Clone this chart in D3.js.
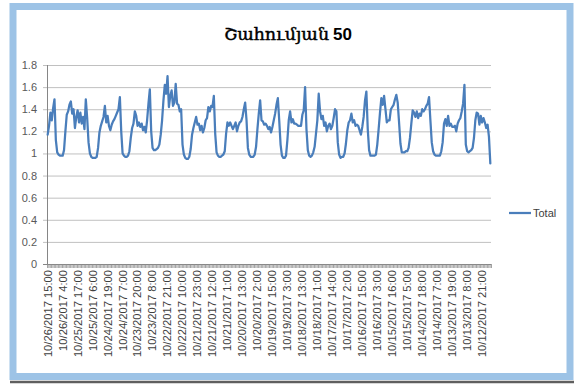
<!DOCTYPE html>
<html>
<head>
<meta charset="utf-8">
<script src="https://cdn.jsdelivr.net/npm/d3@7"></script>
<style>
  html, body { margin: 0; padding: 0; background: #ffffff; }
  svg { display: block; }
</style>
</head>
<body>
<svg id="chart" width="574" height="385"></svg>
<script>
// Hourly totals, newest first (10/26/2017 15:00 back to 10/12/2017)
const values = [
  1.17, 1.25, 1.37, 1.30, 1.41, 1.49, 1.12, 1.01, 0.99, 0.98,
  0.98, 0.98, 1.03, 1.20, 1.35, 1.38, 1.44, 1.47, 1.36, 1.40,
  1.23, 1.33, 1.39, 1.28, 1.37, 1.27, 1.33, 1.22, 1.49, 1.32,
  1.10, 1.00, 0.97, 0.96, 0.96, 0.96, 0.97, 1.05, 1.19, 1.25,
  1.29, 1.33, 1.43, 1.28, 1.34, 1.25, 1.21, 1.26, 1.29, 1.31,
  1.34, 1.37, 1.40, 1.51, 1.20, 1.00, 0.98, 0.97, 0.97, 0.98,
  1.02, 1.14, 1.23, 1.27, 1.38, 1.34, 1.25, 1.28, 1.24, 1.27,
  1.21, 1.24, 1.19, 1.30, 1.45, 1.58, 1.20, 1.05, 1.03, 1.03,
  1.04, 1.05, 1.08, 1.17, 1.30, 1.48, 1.62, 1.54, 1.70, 1.42,
  1.52, 1.57, 1.43, 1.46, 1.63, 1.45, 1.44, 1.38, 1.40, 1.08,
  0.99, 0.96, 0.95, 0.95, 0.97, 1.04, 1.17, 1.23, 1.28, 1.33,
  1.26, 1.27, 1.21, 1.25, 1.19, 1.23, 1.30, 1.32, 1.42, 1.38,
  1.43, 1.42, 1.52, 1.18, 1.01, 0.98, 0.97, 0.97, 0.98, 0.99,
  1.02, 1.18, 1.28, 1.25, 1.28, 1.25, 1.22, 1.25, 1.28, 1.20,
  1.25, 1.28, 1.29, 1.33, 1.40, 1.46, 1.30, 1.05, 0.99, 0.97,
  0.97, 0.97, 0.99, 1.06, 1.22, 1.36, 1.48, 1.30, 1.29, 1.26,
  1.27, 1.25, 1.22, 1.24, 1.19, 1.24, 1.30, 1.36, 1.44, 1.50,
  1.30, 1.08, 0.98, 0.96, 0.96, 0.98, 1.12, 1.30, 1.38, 1.28,
  1.31, 1.27, 1.27, 1.26, 1.25, 1.25, 1.25, 1.35, 1.39, 1.60,
  1.22, 1.03, 0.98, 0.97, 0.98, 1.01, 1.06, 1.18, 1.30, 1.54,
  1.38, 1.31, 1.34, 1.25, 1.28, 1.20, 1.25, 1.27, 1.22, 1.25,
  1.32, 1.40, 1.38, 1.10, 0.99, 0.96, 0.97, 0.97, 1.00, 1.09,
  1.21, 1.28, 1.30, 1.36, 1.28, 1.30, 1.25, 1.26, 1.25, 1.21,
  1.17, 1.24, 1.33, 1.48, 1.56, 1.22, 1.03, 0.98, 0.98, 0.98,
  0.98, 0.99, 1.08, 1.22, 1.37, 1.50, 1.44, 1.52, 1.40, 1.28,
  1.30, 1.30, 1.40, 1.42, 1.44, 1.49, 1.53, 1.46, 1.28, 1.09,
  1.01, 1.01, 1.01, 1.02, 1.02, 1.05, 1.14, 1.27, 1.39, 1.37,
  1.33, 1.38, 1.32, 1.36, 1.34, 1.40, 1.38, 1.40, 1.43, 1.45,
  1.51, 1.30, 1.10, 1.02, 0.99, 0.98, 0.98, 0.98, 0.98, 1.02,
  1.10, 1.27, 1.31, 1.25, 1.34, 1.25, 1.27, 1.24, 1.24, 1.25,
  1.20, 1.27, 1.30, 1.32, 1.38, 1.45, 1.62, 1.08, 1.02, 1.01,
  1.02, 1.03, 1.05, 1.14, 1.30, 1.37, 1.36, 1.26, 1.34, 1.28,
  1.32, 1.28, 1.23, 1.26, 1.15, 0.91
];

// Category labels shown on the axis (every 11th hour slot)
const tickLabels = [
  "10/26/2017 15:00", "10/26/2017 4:00", "10/25/2017 17:00", "10/25/2017 6:00",
  "10/24/2017 19:00", "10/24/2017 7:00", "10/23/2017 20:00", "10/23/2017 8:00",
  "10/22/2017 21:00", "10/22/2017 10:00", "10/21/2017 23:00", "10/21/2017 12:00",
  "10/21/2017 1:00", "10/20/2017 13:00", "10/20/2017 2:00", "10/19/2017 15:00",
  "10/19/2017 3:00", "10/18/2017 13:00", "10/18/2017 1:00", "10/17/2017 14:00",
  "10/17/2017 2:00", "10/16/2017 15:00", "10/16/2017 3:00", "10/15/2017 16:00",
  "10/15/2017 5:00", "10/14/2017 18:00", "10/14/2017 7:00", "10/13/2017 19:00",
  "10/13/2017 8:00", "10/12/2017 21:00"
];
const labelStep = 11;

const yTicks = [0, 0.2, 0.4, 0.6, 0.8, 1, 1.2, 1.4, 1.6, 1.8];
const seriesName = "Total";
const titleText = "Շահումյան";
const titleNumber = "50";

const svg = d3.select("#chart");
const plot = { left: 47, right: 491, top: 65, bottom: 264 };

// Outer chart frame
svg.append("line")
  .attr("x1", 10).attr("x2", 574).attr("y1", 382).attr("y2", 382)
  .attr("stroke", "#5f5f5f").attr("stroke-width", 2.5);
svg.append("rect")
  .attr("x", 13).attr("y", 6.5).attr("width", 557).attr("height", 370)
  .attr("fill", "#ffffff").attr("stroke", "#9dc3e6").attr("stroke-width", 7);

// Scales
const N = values.length;
const x = d3.scaleLinear().domain([0, N]).range([plot.left, plot.right]);
const y = d3.scaleLinear().domain([0, 1.8]).range([plot.bottom, plot.top]);

// Horizontal gridlines + y axis
const yAxis = d3.axisLeft(y)
  .tickValues(yTicks)
  .tickSize(-(plot.right - plot.left))
  .tickPadding(10)
  .tickFormat(d => d3.format("~g")(d));
const gy = svg.append("g")
  .attr("transform", `translate(${plot.left},0)`)
  .call(yAxis);
gy.select(".domain").remove();
gy.selectAll(".tick line")
  .attr("x1", -4)
  .attr("stroke", d => d === 0 ? "#868686" : "#c0c0c0")
  .attr("stroke-width", 1);
gy.selectAll(".tick text")
  .attr("fill", "#595959")
  .style("font-family", "'Liberation Sans', Arial, sans-serif")
  .style("font-size", "11px");

// Vertical axis line
svg.append("line")
  .attr("x1", plot.left + 0.5).attr("x2", plot.left + 0.5)
  .attr("y1", plot.top).attr("y2", plot.bottom)
  .attr("stroke", "#868686");

// Category tick marks (one per hour slot) along the bottom axis
const gx = svg.append("g")
  .attr("transform", `translate(0,${plot.bottom})`)
  .call(d3.axisBottom(x).tickValues(d3.range(0, N + 1)).tickSize(4).tickFormat(""));
gx.select(".domain").attr("stroke", "#868686").attr("d", `M${plot.left},0.5H${plot.right}`);
gx.selectAll(".tick line").attr("stroke", "#8c8c8c").attr("stroke-width", 0.8);

// Rotated category labels
const labelIdx = tickLabels.map((t, k) => k * labelStep);
svg.append("g").selectAll("text")
  .data(labelIdx)
  .join("text")
  .attr("transform", i => `translate(${x(i + 0.5)},${plot.bottom + 6}) rotate(-90)`)
  .attr("dy", "0.35em")
  .attr("text-anchor", "end")
  .attr("fill", "#404040")
  .style("font-family", "'Liberation Sans', Arial, sans-serif")
  .style("font-size", "11.2px")
  .text((i, k) => tickLabels[k]);

// Series line
const line = d3.line()
  .x((d, i) => x(i + 0.5))
  .y(d => y(d));
svg.append("path")
  .datum(values)
  .attr("d", line)
  .attr("fill", "none")
  .attr("stroke", "#4a7ebb")
  .attr("stroke-width", 2.25)
  .attr("stroke-linejoin", "round")
  .attr("stroke-linecap", "round");

// Legend
const lg = svg.append("g").attr("transform", "translate(509,213)");
lg.append("line").attr("x1", 0).attr("x2", 22).attr("y1", 0).attr("y2", 0)
  .attr("stroke", "#4a7ebb").attr("stroke-width", 2.25);
lg.append("text").attr("x", 24).attr("y", 0).attr("dy", "0.35em")
  .attr("fill", "#404040")
  .style("font-family", "'Liberation Sans', Arial, sans-serif")
  .style("font-size", "11px")
  .text(seriesName);

// Title
const title = svg.append("text")
  .attr("x", 288).attr("y", 40)
  .attr("text-anchor", "middle")
  .attr("fill", "#000000");
title.append("tspan")
  .style("font-family", "'DejaVu Serif', serif")
  .style("font-size", "17.5px")
  .attr("stroke", "#000000")
  .attr("stroke-width", 0.45)
  .text(titleText);
title.append("tspan")
  .attr("dx", 4)
  .style("font-family", "'Liberation Sans', Arial, sans-serif")
  .style("font-weight", "bold")
  .style("font-size", "17px")
  .text(titleNumber);
</script>
</body>
</html>
